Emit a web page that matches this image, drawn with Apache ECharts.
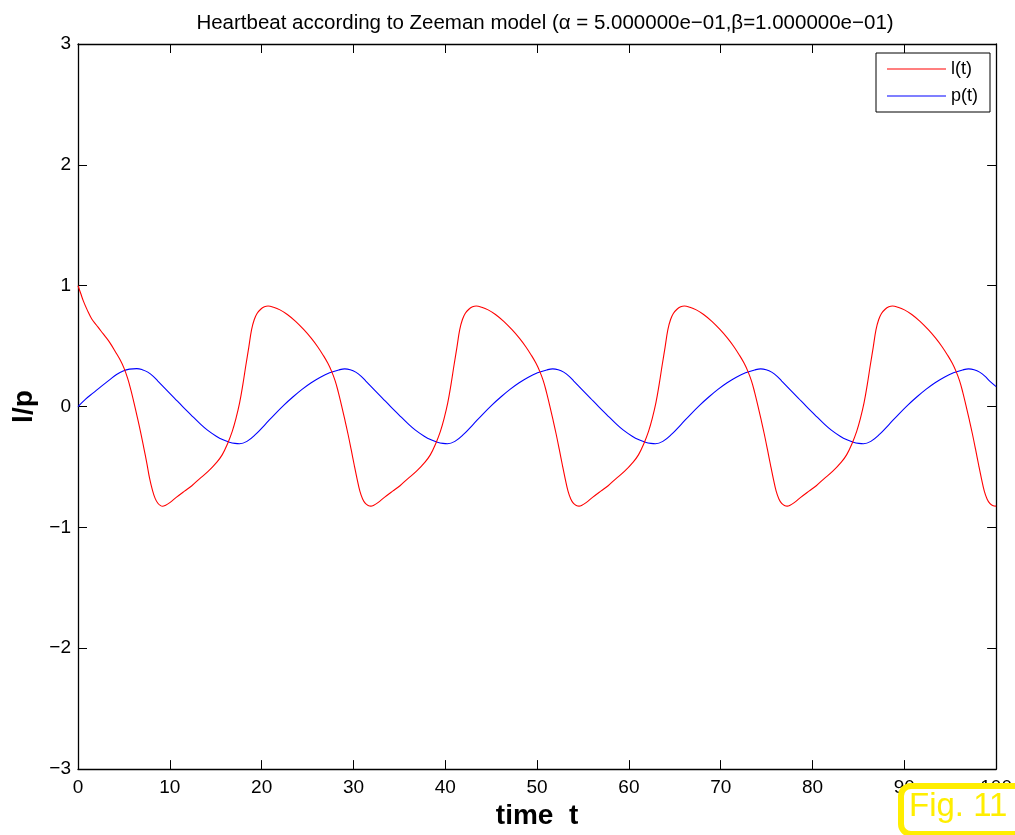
<!DOCTYPE html>
<html>
<head>
<meta charset="utf-8">
<title>Heartbeat according to Zeeman model</title>
<script src="https://cdn.jsdelivr.net/npm/echarts@6/dist/echarts.min.js"></script>
<style>
  html, body { margin: 0; padding: 0; background: #fff; }
  #chart { width: 1015px; height: 835px; }
</style>
</head>
<body>
<div id="chart"></div>
<script>
// Time samples and values of l(t)
const tL = [
  0, 0.3, 0.6, 1.0, 1.5, 2.0, 2.5, 3.0, 3.5, 4.1, 4.6, 5.0, 5.4, 5.75, 6.1, 6.45, 6.8, 7.15, 7.5, 7.8, 8.1, 8.4, 8.7, 9.0, 9.2,
  9.5, 10.0, 10.7, 11.6, 12.4, 13.2, 14.2, 15.1, 15.7, 16.3, 16.8, 17.2, 17.6, 17.95, 18.3, 18.6, 18.9, 19.2, 19.5, 19.9, 20.3,
  20.7, 21.3, 22.0, 22.8, 23.7, 24.6, 25.4, 26.1, 26.7, 27.2, 27.6, 28.0, 28.35, 28.7, 29.05, 29.4, 29.75, 30.1, 30.4, 30.7, 31.0, 31.3, 31.6, 31.9,
  32.17, 32.67, 33.37, 34.27, 35.07, 35.87, 36.87, 37.77, 38.37, 38.97, 39.47, 39.87, 40.27, 40.62, 40.97, 41.27, 41.57, 41.87, 42.17, 42.57, 42.97,
  43.37, 43.97, 44.67, 45.47, 46.37, 47.27, 48.07, 48.77, 49.37, 49.87, 50.27, 50.67, 51.02, 51.37, 51.72, 52.07, 52.42, 52.77, 53.07, 53.37, 53.67, 53.97, 54.27, 54.57,
  54.84, 55.34, 56.04, 56.94, 57.74, 58.54, 59.54, 60.44, 61.04, 61.64, 62.14, 62.54, 62.94, 63.29, 63.64, 63.94, 64.24, 64.54, 64.84, 65.24, 65.64,
  66.04, 66.64, 67.34, 68.14, 69.04, 69.94, 70.74, 71.44, 72.04, 72.54, 72.94, 73.34, 73.69, 74.04, 74.39, 74.74, 75.09, 75.44, 75.74, 76.04, 76.34, 76.64, 76.94, 77.24,
  77.51, 78.01, 78.71, 79.61, 80.41, 81.21, 82.21, 83.11, 83.71, 84.31, 84.81, 85.21, 85.61, 85.96, 86.31, 86.61, 86.91, 87.21, 87.51, 87.91, 88.31,
  88.71, 89.31, 90.01, 90.81, 91.71, 92.61, 93.41, 94.11, 94.71, 95.21, 95.61, 96.01, 96.36, 96.71, 97.06, 97.41, 97.76, 98.11, 98.41, 98.71, 99.01, 99.31, 99.61, 100
];
const lVals = [
  1.0, 0.935, 0.87, 0.80, 0.725, 0.675, 0.625, 0.577, 0.525, 0.45, 0.385, 0.32, 0.235, 0.14, 0.03, -0.085, -0.205, -0.335, -0.47, -0.595, -0.69, -0.76, -0.80, -0.82, -0.825,
  -0.818, -0.795, -0.752, -0.70, -0.655, -0.60, -0.535, -0.462, -0.40, -0.305, -0.205, -0.10, 0.03, 0.18, 0.35, 0.49, 0.635, 0.72, 0.77, 0.805, 0.825,
  0.832, 0.822, 0.800, 0.762, 0.705, 0.636, 0.566, 0.495, 0.425, 0.36, 0.295, 0.215, 0.12, 0.01, -0.105, -0.225, -0.355, -0.49, -0.60, -0.70, -0.765, -0.802, -0.818, -0.824,
  -0.818, -0.795, -0.752, -0.70, -0.655, -0.60, -0.535, -0.462, -0.40, -0.305, -0.205, -0.10, 0.03, 0.18, 0.35, 0.49, 0.635, 0.72, 0.77, 0.805, 0.825,
  0.832, 0.822, 0.800, 0.762, 0.705, 0.636, 0.566, 0.495, 0.425, 0.36, 0.295, 0.215, 0.12, 0.01, -0.105, -0.225, -0.355, -0.49, -0.60, -0.70, -0.765, -0.802, -0.818, -0.824,
  -0.818, -0.795, -0.752, -0.70, -0.655, -0.60, -0.535, -0.462, -0.40, -0.305, -0.205, -0.10, 0.03, 0.18, 0.35, 0.49, 0.635, 0.72, 0.77, 0.805, 0.825,
  0.832, 0.822, 0.800, 0.762, 0.705, 0.636, 0.566, 0.495, 0.425, 0.36, 0.295, 0.215, 0.12, 0.01, -0.105, -0.225, -0.355, -0.49, -0.60, -0.70, -0.765, -0.802, -0.818, -0.824,
  -0.818, -0.795, -0.752, -0.70, -0.655, -0.60, -0.535, -0.462, -0.40, -0.305, -0.205, -0.10, 0.03, 0.18, 0.35, 0.49, 0.635, 0.72, 0.77, 0.805, 0.825,
  0.832, 0.822, 0.800, 0.762, 0.705, 0.636, 0.566, 0.495, 0.425, 0.36, 0.295, 0.215, 0.12, 0.01, -0.105, -0.225, -0.355, -0.49, -0.60, -0.70, -0.765, -0.802, -0.818, -0.824
];

// Time samples and values of p(t)
const tP = [
  0, 0.8, 1.66, 2.5, 3.47, 4.2, 4.92, 5.6,
  6.4, 7.0, 7.6, 8.2, 8.7, 9.6, 10.5, 11.4, 12.3, 13.2, 14.1, 15.06, 15.8, 16.5, 17.1, 17.6, 18.4, 19.4, 20.4, 21.4, 22.4, 23.4, 24.4, 25.4, 26.4, 27.4, 28.4,
  29.05, 29.65, 30.25, 30.85, 31.35, 32.25, 33.15, 34.05, 34.95, 35.85, 36.75, 37.71, 38.45, 39.15, 39.75, 40.25, 41.05, 42.05, 43.05, 44.05, 45.05, 46.05, 47.05, 48.05, 49.05, 50.05, 51.05,
  51.7, 52.3, 52.9, 53.5, 54.0, 54.9, 55.8, 56.7, 57.6, 58.5, 59.4, 60.36, 61.1, 61.8, 62.4, 62.9, 63.7, 64.7, 65.7, 66.7, 67.7, 68.7, 69.7, 70.7, 71.7, 72.7, 73.7,
  74.35, 74.95, 75.55, 76.15, 76.65, 77.55, 78.45, 79.35, 80.25, 81.15, 82.05, 83.01, 83.75, 84.45, 85.05, 85.55, 86.35, 87.35, 88.35, 89.35, 90.35, 91.35, 92.35, 93.35, 94.35, 95.35, 96.35,
  97.0, 97.6, 98.2, 98.8, 99.3, 100
];
const pVals = [
  0, 0.06, 0.113, 0.165, 0.223, 0.265, 0.295, 0.31,
  0.314, 0.305, 0.285, 0.25, 0.21, 0.14, 0.07, 0.0, -0.068, -0.135, -0.195, -0.245, -0.275, -0.295, -0.305, -0.308, -0.288, -0.226, -0.147, -0.066, 0.010, 0.079, 0.142, 0.197, 0.243, 0.279, 0.303,
  0.312, 0.305, 0.285, 0.25, 0.21, 0.14, 0.07, 0.0, -0.068, -0.135, -0.195, -0.245, -0.275, -0.295, -0.305, -0.308, -0.288, -0.226, -0.147, -0.066, 0.010, 0.079, 0.142, 0.197, 0.243, 0.279, 0.303,
  0.312, 0.305, 0.285, 0.25, 0.21, 0.14, 0.07, 0.0, -0.068, -0.135, -0.195, -0.245, -0.275, -0.295, -0.305, -0.308, -0.288, -0.226, -0.147, -0.066, 0.010, 0.079, 0.142, 0.197, 0.243, 0.279, 0.303,
  0.312, 0.305, 0.285, 0.25, 0.21, 0.14, 0.07, 0.0, -0.068, -0.135, -0.195, -0.245, -0.275, -0.295, -0.305, -0.308, -0.288, -0.226, -0.147, -0.066, 0.010, 0.079, 0.142, 0.197, 0.243, 0.279, 0.303,
  0.312, 0.305, 0.285, 0.25, 0.21, 0.165
];

// Axis ranges and tick spacing
const xRange = [0, 100, 10];
const yRange = [-3, 3, 1];

const titleText = 'Heartbeat according to Zeeman model (\u03b1 = 5.000000e\u221201,\u03b2=1.000000e\u221201)';
const seriesNames = ['l(t)', 'p(t)'];
const xName = 'time  t';
const yName = 'l/p';
const figLabel = 'Fig. 11';

const FONT = '"Liberation Sans", Arial, Helvetica, sans-serif';
const minusFmt = v => String(v).replace('-', '\u2212');

const chart = echarts.init(document.getElementById('chart'), null, { renderer: 'canvas' });

const tickStyle = { show: true, inside: true, length: 9, lineStyle: { color: '#000', width: 1 } };
const lineStyleAxis = { show: true, onZero: false, lineStyle: { color: '#000', width: 1.3 } };

chart.setOption({
  animation: false,
  backgroundColor: '#fff',
  title: {
    text: titleText,
    left: 540,
    top: 8,
    textAlign: 'center',
    textStyle: { fontFamily: FONT, fontSize: 20.5, fontWeight: 'normal', color: '#000' }
  },
  grid: { left: 78, top: 44, width: 921, height: 726, containLabel: false },
  legend: {
    data: seriesNames.map(n => ({ name: n, icon: 'rect' })),
    orient: 'vertical',
    right: 25,
    top: 53,
    padding: [7, 12, 7, 11],
    itemGap: 9,
    itemWidth: 59,
    itemHeight: 1,
    backgroundColor: '#fff',
    borderColor: '#000',
    borderWidth: 1,
    borderRadius: 0,
    textStyle: { fontFamily: FONT, fontSize: 18, lineHeight: 17, color: '#000' }
  },
  xAxis: [
    {
      type: 'value', min: xRange[0], max: xRange[1], interval: xRange[2],
      position: 'bottom',
      name: xName, nameLocation: 'middle', nameGap: 31,
      nameTextStyle: { fontFamily: FONT, fontSize: 28, fontWeight: 'bold', color: '#000' },
      axisLine: lineStyleAxis, axisTick: tickStyle,
      axisLabel: { fontFamily: FONT, fontSize: 19, color: '#000', margin: 9, formatter: minusFmt },
      splitLine: { show: false }
    },
    {
      type: 'value', min: xRange[0], max: xRange[1], interval: xRange[2],
      position: 'top',
      axisLine: lineStyleAxis, axisTick: tickStyle,
      axisLabel: { show: false }, splitLine: { show: false }
    }
  ],
  yAxis: [
    {
      type: 'value', min: yRange[0], max: yRange[1], interval: yRange[2],
      position: 'left',
      name: yName, nameLocation: 'middle', nameGap: 40, nameRotate: 90,
      nameTextStyle: { fontFamily: FONT, fontSize: 28, fontWeight: 'bold', color: '#000' },
      axisLine: lineStyleAxis, axisTick: tickStyle,
      axisLabel: { fontFamily: FONT, fontSize: 19, color: '#000', margin: 7, formatter: minusFmt },
      splitLine: { show: false }
    },
    {
      type: 'value', min: yRange[0], max: yRange[1], interval: yRange[2],
      position: 'right',
      axisLine: lineStyleAxis, axisTick: tickStyle,
      axisLabel: { show: false }, splitLine: { show: false }
    }
  ],
  series: [
    {
      name: seriesNames[0], type: 'line', xAxisIndex: 0, yAxisIndex: 0,
      data: tL.map((t, i) => [t, lVals[i]]),
      symbol: 'none', smooth: 0.4, color: '#ff0000',
      lineStyle: { color: '#ff0000', width: 1.1 }, z: 3
    },
    {
      name: seriesNames[1], type: 'line', xAxisIndex: 0, yAxisIndex: 0,
      data: tP.map((t, i) => [t, pVals[i]]),
      symbol: 'none', smooth: 0.4, color: '#0000ff',
      lineStyle: { color: '#0000ff', width: 1.1 }, z: 2
    }
  ],
  graphic: [
    {
      type: 'rect', z: 100, left: 898, top: 783,
      shape: { width: 130, height: 48, r: 10 },
      style: { fill: '#fff', stroke: '#ffee00', lineWidth: 6 }
    },
    {
      type: 'text', z: 101, left: 909, top: 790,
      style: { text: figLabel, fill: '#ffee00', font: '33px ' + FONT }
    }
  ]
});
</script>
</body>
</html>
